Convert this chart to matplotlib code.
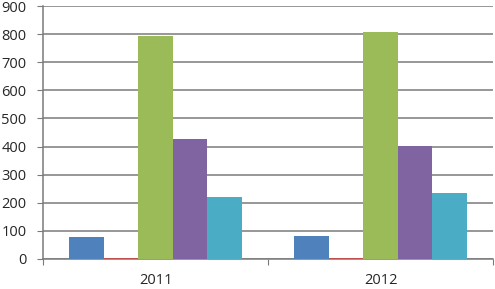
import numpy as np
import matplotlib
matplotlib.use("Agg")
import matplotlib.pyplot as plt

years = ["2011", "2012"]
blue = [78, 82]
red = [3, 3]
green = [793, 808]
purple = [427, 402]
cyan = [220, 235]

series = [blue, red, green, purple, cyan]
colors = ["#4F81BD", "#C0504D", "#9BBB59", "#8064A2", "#4BACC6"]

plt.rcParams['font.family'] = ['Open Sans', 'DejaVu Sans']

fig = plt.figure(figsize=(4.95, 2.89), dpi=100)
ax = fig.add_axes([0.087, 0.104, 0.909, 0.875])

x = np.arange(len(years))
w = 1 / 6.5
for i, (vals, c) in enumerate(zip(series, colors)):
    ax.bar(x + (i - 2) * w, vals, width=w, color=c, zorder=3)

ax.set_xlim(-0.5, 1.5)
ax.set_ylim(0, 900)
ax.set_yticks(range(0, 901, 100))
ax.yaxis.grid(True, color="#7a7a7a", linewidth=1.1, zorder=0)

ax.set_xticks([-0.5, 0.5, 1.5])
ax.set_xticklabels([])
ax.set_xticks(x, minor=True)
ax.set_xticklabels(years, minor=True)
ax.tick_params(axis="x", which="minor", length=0, pad=10, labelsize=10.5, colors="#262626")
ax.tick_params(axis="x", which="major", length=4, color="#7a7a7a", direction="out")
ax.tick_params(axis="y", length=4, color="#7a7a7a", labelsize=10.5, labelcolor="#262626", pad=8)

for s in ["top", "right"]:
    ax.spines[s].set_visible(False)
for s in ["left", "bottom"]:
    ax.spines[s].set_color("#7a7a7a")
    ax.spines[s].set_linewidth(1.1)

fig.savefig("out.png", dpi=100)
